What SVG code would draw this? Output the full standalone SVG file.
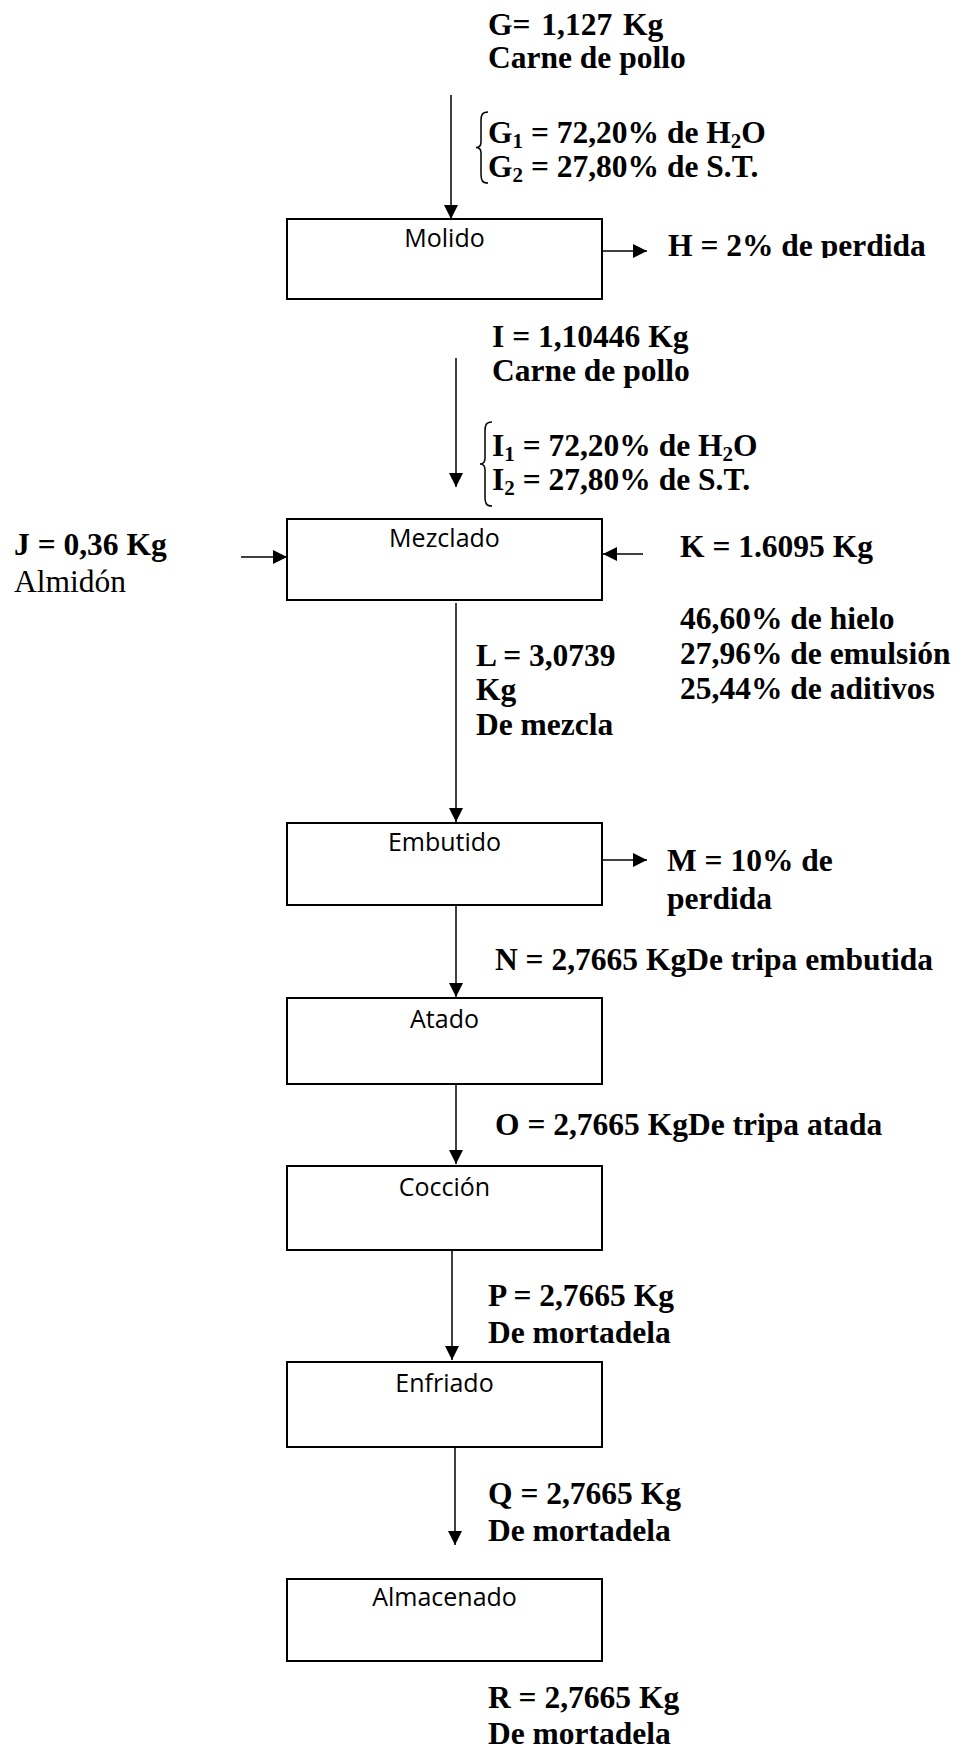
<svg xmlns="http://www.w3.org/2000/svg" width="963" height="1751" viewBox="0 0 963 1751">
  <style>
    .lbl { font-family: "Liberation Serif", "Times New Roman", serif; font-weight: bold; font-size: 31.5px; fill: #000; }
    .reg { font-family: "Liberation Serif", "Times New Roman", serif; font-weight: normal; font-size: 31.5px; fill: #000; }
    .sub { font-size: 21px; }
    .box { fill: #fff; stroke: #000; stroke-width: 2; }
    .step { font-family: "Open Sans", "Noto Sans", sans-serif; font-size: 25px; fill: #000; text-anchor: middle; }
    .flow { stroke: #000; stroke-width: 1.5; fill: none; }
    .brace { stroke: #000; stroke-width: 1.5; fill: none; }
  </style>
  <defs>
    <marker id="arrow" markerUnits="userSpaceOnUse" markerWidth="14" markerHeight="14" viewBox="0 0 14 14" refX="14" refY="7" orient="auto">
      <path d="M0,0 L14,7 L0,14 z" fill="#000"/>
    </marker>
    <clipPath id="clipH">
      <rect x="650" y="220" width="313" height="38"/>
    </clipPath>
  </defs>
  <rect width="963" height="1751" fill="#fff"/>

  <!-- connectors -->
  <g id="connectors">
    <line class="flow" x1="451" y1="95" x2="451" y2="219" marker-end="url(#arrow)"/>
    <line class="flow" x1="602" y1="251" x2="647" y2="251" marker-end="url(#arrow)"/>
    <line class="flow" x1="456" y1="358" x2="456" y2="487" marker-end="url(#arrow)"/>
    <line class="flow" x1="241" y1="557" x2="287" y2="557" marker-end="url(#arrow)"/>
    <line class="flow" x1="643" y1="554" x2="603" y2="554" marker-end="url(#arrow)"/>
    <line class="flow" x1="456" y1="603" x2="456" y2="822" marker-end="url(#arrow)"/>
    <line class="flow" x1="602" y1="860" x2="647" y2="860" marker-end="url(#arrow)"/>
    <line class="flow" x1="456" y1="905" x2="456" y2="997" marker-end="url(#arrow)"/>
    <line class="flow" x1="456" y1="1084" x2="456" y2="1164" marker-end="url(#arrow)"/>
    <line class="flow" x1="452" y1="1250" x2="452" y2="1360" marker-end="url(#arrow)"/>
    <line class="flow" x1="455" y1="1447" x2="455" y2="1545" marker-end="url(#arrow)"/>
  </g>

  <!-- process steps -->
  <g id="molido">
    <rect class="box" x="287" y="219" width="315" height="80"/>
    <text class="step" x="444.5" y="247">Molido</text>
  </g>
  <g id="mezclado">
    <rect class="box" x="287" y="519" width="315" height="81"/>
    <text class="step" x="444.5" y="547">Mezclado</text>
  </g>
  <g id="embutido">
    <rect class="box" x="287" y="823" width="315" height="82"/>
    <text class="step" x="444.5" y="851">Embutido</text>
  </g>
  <g id="atado">
    <rect class="box" x="287" y="998" width="315" height="86"/>
    <text class="step" x="444.5" y="1028">Atado</text>
  </g>
  <g id="coccion">
    <rect class="box" x="287" y="1166" width="315" height="84"/>
    <text class="step" x="444.5" y="1196">Cocción</text>
  </g>
  <g id="enfriado">
    <rect class="box" x="287" y="1362" width="315" height="85"/>
    <text class="step" x="444.5" y="1392">Enfriado</text>
  </g>
  <g id="almacenado">
    <rect class="box" x="287" y="1579" width="315" height="82"/>
    <text class="step" x="444.5" y="1606">Almacenado</text>
  </g>

  <!-- stream labels -->
  <g id="stream-g">
    <text class="lbl" x="488" y="35" word-spacing="3">G= 1,127 Kg</text>
    <text class="lbl" x="488" y="68">Carne de pollo</text>
    <path class="brace" d="M488,112 C482,112 481,115 481,121 L481,142 C481,146 479,147.5 476,147.5 C479,147.5 481,149 481,153 L481,174 C481,180 482,183 488,183"/>
    <text class="lbl" x="488" y="143">G<tspan class="sub" dy="5">1</tspan><tspan dy="-5"> = 72,20% de H</tspan><tspan class="sub" dy="5">2</tspan><tspan dy="-5">O</tspan></text>
    <text class="lbl" x="488" y="177">G<tspan class="sub" dy="5">2</tspan><tspan dy="-5"> = 27,80% de S.T.</tspan></text>
  </g>
  <g id="stream-h" clip-path="url(#clipH)">
    <text class="lbl" x="668" y="256">H = 2% de perdida</text>
  </g>
  <g id="stream-i">
    <text class="lbl" x="492" y="347">I = 1,10446 Kg</text>
    <text class="lbl" x="492" y="381">Carne de pollo</text>
    <path class="brace" d="M492,422 C486,422 485,425 485,431 L485,458 C485,462 483,464 480,464 C483,464 485,466 485,470 L485,497 C485,503 486,506 492,506"/>
    <text class="lbl" x="492" y="456">I<tspan class="sub" dy="5">1</tspan><tspan dy="-5"> = 72,20% de H</tspan><tspan class="sub" dy="5">2</tspan><tspan dy="-5">O</tspan></text>
    <text class="lbl" x="492" y="490">I<tspan class="sub" dy="5">2</tspan><tspan dy="-5"> = 27,80% de S.T.</tspan></text>
  </g>
  <g id="stream-j">
    <text class="lbl" x="14" y="555">J = 0,36 Kg</text>
    <text class="reg" x="14" y="592">Almidón</text>
  </g>
  <g id="stream-k">
    <text class="lbl" x="680" y="557">K = 1.6095 Kg</text>
    <text class="lbl" x="680" y="629">46,60% de hielo</text>
    <text class="lbl" x="680" y="664">27,96% de emulsión</text>
    <text class="lbl" x="680" y="699">25,44% de aditivos</text>
  </g>
  <g id="stream-l">
    <text class="lbl" x="476" y="666">L = 3,0739</text>
    <text class="lbl" x="476" y="700">Kg</text>
    <text class="lbl" x="476" y="735">De mezcla</text>
  </g>
  <g id="stream-m">
    <text class="lbl" x="667" y="871">M = 10% de</text>
    <text class="lbl" x="667" y="909">perdida</text>
  </g>
  <g id="stream-n">
    <text class="lbl" x="495" y="970">N = 2,7665 KgDe tripa embutida</text>
  </g>
  <g id="stream-o">
    <text class="lbl" x="495" y="1135">O = 2,7665 KgDe tripa atada</text>
  </g>
  <g id="stream-p">
    <text class="lbl" x="488" y="1306">P = 2,7665 Kg</text>
    <text class="lbl" x="488" y="1343">De mortadela</text>
  </g>
  <g id="stream-q">
    <text class="lbl" x="488" y="1504">Q = 2,7665 Kg</text>
    <text class="lbl" x="488" y="1541">De mortadela</text>
  </g>
  <g id="stream-r">
    <text class="lbl" x="488" y="1708">R = 2,7665 Kg</text>
    <text class="lbl" x="488" y="1744">De mortadela</text>
  </g>
</svg>
